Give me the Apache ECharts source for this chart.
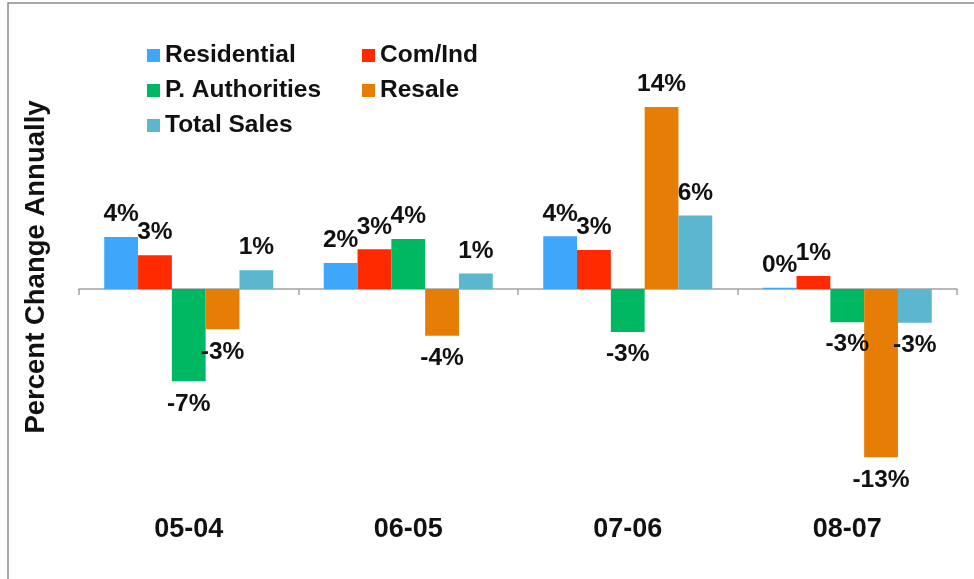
<!DOCTYPE html>
<html>
<head>
<meta charset="utf-8">
<script src="https://cdn.jsdelivr.net/npm/echarts@6/dist/echarts.min.js"></script>
<style>
html,body{margin:0;padding:0;background:#fff;}
#main{width:974px;height:579px;}
</style>
</head>
<body>
<div id="main"></div>
<script>
var categories = ['05-04', '06-05', '07-06', '08-07']; //年度对比
var seriesNames = ['Residential', 'Com/Ind', 'P. Authorities', 'Resale', 'Total Sales'];
var residential = [4.0, 2.0, 4.05, 0.1];
var comInd = [2.6, 3.05, 3.0, 1.0];
var pAuthorities = [-7.1, 3.85, -3.3, -2.55];
var resale = [-3.1, -3.6, 14.0, -12.95];
var totalSales = [1.45, 1.2, 5.65, -2.6];
var colors = ['#3ea7fb', '#ff2a00', '#00b862', '#e67e05', '#5ab7cd'];

var font = "'Liberation Sans', Arial, sans-serif";

function makeSeries(name, values, color) {
	return {
		name: name,
		type: 'bar',
		xAxisIndex: 0,
		barGap: '0%',
		barCategoryGap: '23%',
		itemStyle: { color: color },
		label: {
			show: true,
			distance: 10,
			color: '#111',
			fontFamily: font,
			fontWeight: 'bold',
			fontSize: 24.5,
			formatter: function (p) { return Math.round(p.value) + '%'; }
		},
		data: values.map(function (v) {
			return { value: v, label: { position: v < 0 ? 'bottom' : 'top' } };
		})
	};
}

var legendText = { fontFamily: font, fontWeight: 'bold', fontSize: 24.5, color: '#111', lineHeight: 24, padding: [0, 0, 0, 0] };

var chart = echarts.init(document.getElementById('main'));
chart.setOption({
	animation: false,
	color: colors,
	graphic: [{
		type: 'rect',
		shape: { x: 8, y: 3, width: 1000, height: 700 },
		style: { fill: 'none', stroke: '#8c8c8c', lineWidth: 1.5 },
		silent: true
	}],
	legend: [{
		orient: 'vertical',
		left: 142,
		top: 38,
		itemWidth: 13,
		itemHeight: 13,
		itemGap: 10,
		icon: 'rect',
		data: ['Residential', 'P. Authorities', 'Total Sales'],
		textStyle: legendText
	}, {
		orient: 'vertical',
		left: 357,
		top: 38,
		itemWidth: 13,
		itemHeight: 13,
		itemGap: 10,
		icon: 'rect',
		data: ['Com/Ind', 'Resale'],
		textStyle: legendText
	}],
	grid: { left: 79, right: 17, top: 81, bottom: 82, containLabel: false },
	xAxis: [{
		type: 'category',
		data: categories,
		position: 'bottom',
		axisLine: { show: false, onZero: false },
		axisTick: { show: false },
		axisLabel: { margin: 19, color: '#111', fontFamily: font, fontWeight: 'bold', fontSize: 27 }
	}, {
		type: 'category',
		data: categories,
		position: 'bottom',
		axisLine: { show: true, onZero: true, lineStyle: { color: '#a3a3a3', width: 1.5 } },
		axisTick: { show: true, length: 6, lineStyle: { color: '#a3a3a3', width: 1.5 } },
		axisLabel: { show: false }
	}],
	yAxis: {
		type: 'value',
		min: -16,
		max: 16,
		interval: 2,
		axisLine: { show: false },
		axisTick: { show: false },
		axisLabel: { show: false },
		splitLine: { show: false },
		name: 'Percent Change Annually',
		nameLocation: 'middle',
		nameGap: 29,
		nameTextStyle: { fontFamily: font, fontWeight: 'bold', fontSize: 27.5, color: '#111', padding: [0, 0, 0, 44] }
	},
	series: [
		makeSeries(seriesNames[0], residential, colors[0]),
		makeSeries(seriesNames[1], comInd, colors[1]),
		makeSeries(seriesNames[2], pAuthorities, colors[2]),
		makeSeries(seriesNames[3], resale, colors[3]),
		makeSeries(seriesNames[4], totalSales, colors[4])
	]
});
</script>
</body>
</html>
